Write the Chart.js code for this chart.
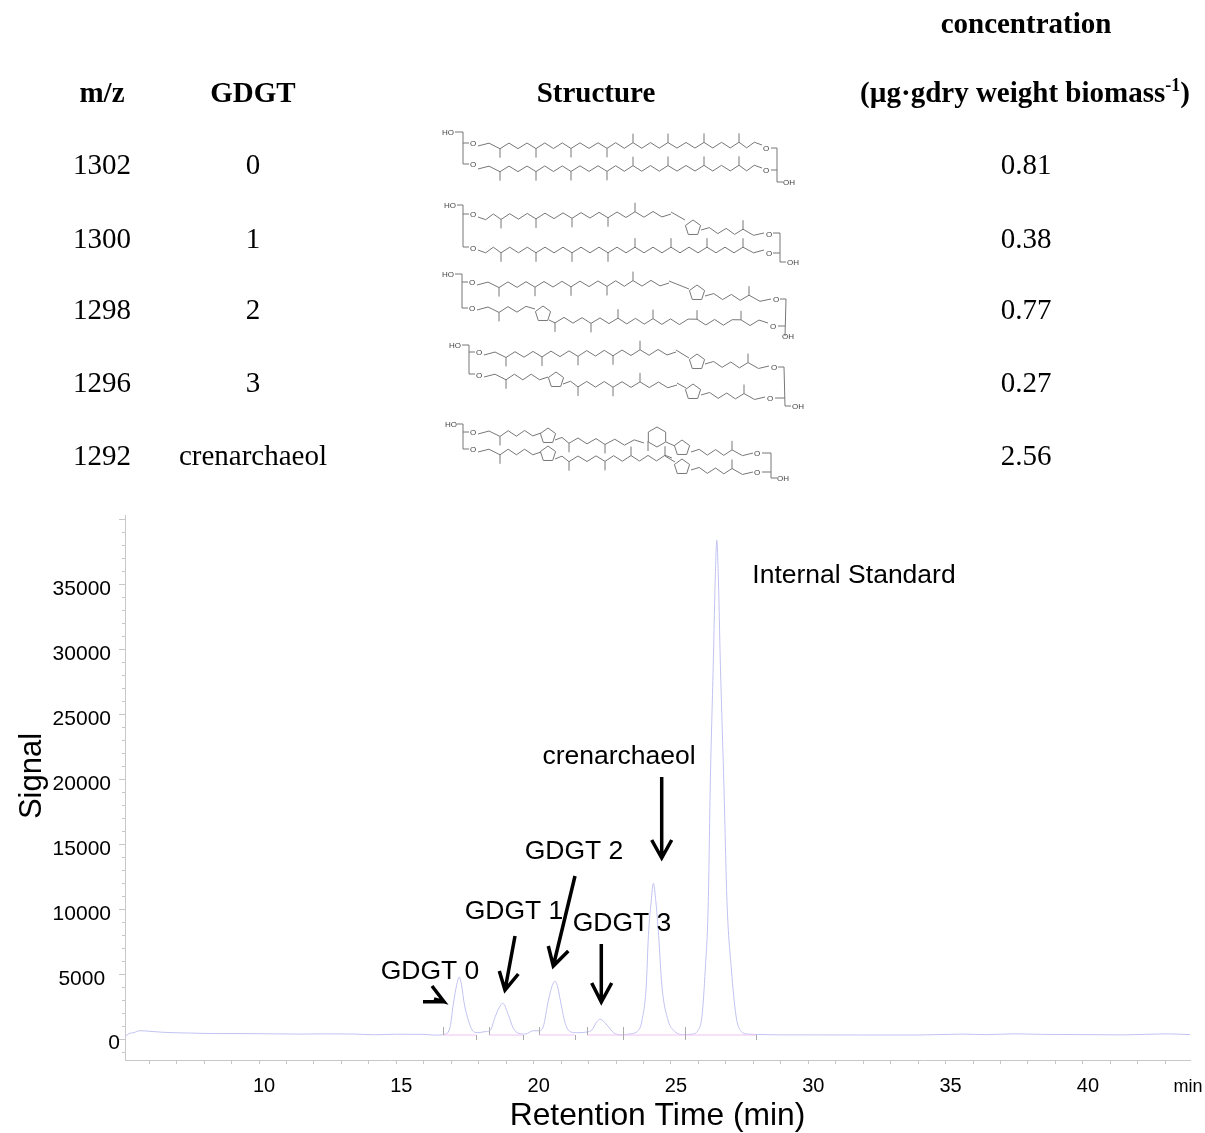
<!DOCTYPE html>
<html>
<head>
<meta charset="utf-8">
<title>GDGT chromatogram</title>
<script src="https://cdn.jsdelivr.net/npm/chart.js@4"></script>
<style>
  html, body { margin: 0; padding: 0; background: #fff; }
  #page { position: relative; width: 1205px; height: 1133px; overflow: hidden; }
  #chart { position: absolute; left: 0; top: 0; }
  #structures { position: absolute; left: 0; top: 0; }
  .cell { position: absolute; transform: translate(-50%, -50%); white-space: nowrap;
          font-family: "Liberation Serif", serif; font-size: 29px; color: #000; }
  .head { font-weight: bold; font-size: 29px; }
  .head sup { font-size: 18px; line-height: 0; }
</style>
</head>
<body>
<div id="page">
  <canvas id="chart" width="1205" height="1133"></canvas>
  <svg id="structures" width="1205" height="500" xmlns="http://www.w3.org/2000/svg"></svg>
</div>
<script>
// table
const mzValues = ['1302', '1300', '1298', '1296', '1292'];
const gdgtNames = ['0', '1', '2', '3', 'crenarchaeol'];
const concentrations = ['0.81', '0.38', '0.77', '0.27', '2.56'];

// chromatogram trace
const retentionTime = [5.12, 5.25, 5.45, 5.66, 6.0, 6.5, 7.5, 8.5, 9.5, 10.5, 11.5, 12.5, 13.5, 14.2, 15, 16, 16.4,
  16.78, 16.96, 17.08, 17.19, 17.29, 17.38, 17.47, 17.62, 17.81, 17.98, 18.23, 18.41,
  18.6, 18.75, 18.88, 19.08, 19.26, 19.45, 19.69, 19.99, 20.2,
  20.35, 20.54, 20.68, 20.77, 20.86, 20.97, 21.15, 21.33, 21.57, 21.94, 22.12,
  22.3, 22.42, 22.67, 22.91, 23.21, 23.46,
  23.82, 23.95, 24.1, 24.18, 24.28, 24.36, 24.45, 24.55, 24.67, 24.89, 25.09, 25.46,
  25.76, 25.99, 26.13, 26.25, 26.36, 26.43, 26.54, 26.62, 26.67, 26.72, 26.8, 26.93, 27.04, 27.2, 27.37, 27.52, 27.81,
  28.2, 29, 30, 32, 34, 35.6, 36.5, 37.5, 38.5, 40, 41.5, 43, 43.9];
const signal = [200, 420, 520, 660, 620, 540, 480, 440, 440, 420, 400, 420, 400, 350, 390, 380, 320,
  400, 970, 2790, 4100, 4790, 4100, 2790, 1480, 590, 510, 590, 660,
  1740, 2450, 2770, 1870, 850, 460, 400, 660, 660,
  970, 3020, 4150, 4460, 4150, 3020, 1230, 590, 510, 560, 715,
  1350, 1540, 1100, 510, 330, 400,
  700, 1500, 4100, 8000, 10600, 12000, 10600, 8000, 4100, 1500, 700, 360,
  400, 700, 1800, 5400, 10600, 19400, 28800, 36000, 38400, 36000, 28800, 19400, 10600, 5400, 1800, 700, 400,
  370, 340, 340, 330, 330, 400, 360, 420, 380, 360, 340, 420, 360];

// integration baselines under each peak
const baselineStart = [16.7, 18.38, 20.2, 21.95, 23.25, 25.5];
const baselineEnd = [17.9, 19.6, 21.5, 23.25, 25.5, 28.1];
const baselineSignal = 330;

// axes
const xTickValues = [6,7,8,9,10,11,12,13,14,15,16,17,18,19,20,21,22,23,24,25,26,27,28,29,30,31,32,33,34,35,36,37,38,39,40,41,42,43];
const xTickLabels = ['10', '15', '20', '25', '30', '35', '40'];
const yTickValues = [-1000,0,1000,2000,3000,4000,5000,6000,7000,8000,9000,10000,11000,12000,13000,14000,15000,16000,17000,18000,19000,20000,
  21000,22000,23000,24000,25000,26000,27000,28000,29000,30000,31000,32000,33000,34000,35000,36000,37000,38000,39000,40000];
const yTickLabels = ['5000', '10000', '15000', '20000', '25000', '30000', '35000'];

const sans = '"Liberation Sans", Arial, sans-serif';
const axisGrey = '#c8c8c8';

// table cells
const page = document.getElementById('page');
function cell(x, y, html, cls) {
    const d = document.createElement('div');
    d.className = 'cell ' + (cls || '');
    d.style.left = x + 'px';
    d.style.top = y + 'px';
    d.innerHTML = html;
    page.appendChild(d);
}
cell(1026, 23, 'concentration', 'head');
cell(102, 92, 'm/z', 'head');
cell(253, 92, 'GDGT', 'head');
cell(596, 92, 'Structure', 'head');
cell(1025, 92, '(\u00b5g\u00b7gdry weight biomass<sup>-1</sup>)', 'head');
const rowY = [164, 238, 309, 382, 455];
rowY.forEach((y, i) => {
    cell(102, y, mzValues[i]);
    cell(253, y, gdgtNames[i]);
    cell(1026, y, concentrations[i]);
});

// molecule sketches
const svg = document.getElementById('structures');
function line(pts) {
    const p = document.createElementNS('http://www.w3.org/2000/svg', 'polyline');
    p.setAttribute('points', pts.map(q => q.join(',')).join(' '));
    p.setAttribute('fill', 'none');
    p.setAttribute('stroke', '#777');
    p.setAttribute('stroke-width', '1');
    svg.appendChild(p);
}
function label(x, y, t) {
    const e = document.createElementNS('http://www.w3.org/2000/svg', 'text');
    e.setAttribute('x', x);
    e.setAttribute('y', y + 3);
    e.setAttribute('text-anchor', 'middle');
    e.setAttribute('font-family', 'Liberation Sans');
    e.setAttribute('font-size', '8');
    e.setAttribute('fill', '#444');
    e.textContent = t;
    svg.appendChild(e);
}
// zigzag chain, methyls are [x, 1 down / -1 up]
function chain(x0, y0, x1, y1, methyls) {
    const amp = 2.8;
    const yAt = x => y0 + (y1 - y0) * (x - x0) / (x1 - x0);
    const anchors = [[x0, 0]].concat(methyls, [[x1, 0]]);
    const pts = [[x0, y0]];
    for (let a = 0; a < anchors.length - 1; a++) {
        const [ax, ad] = anchors[a];
        const [bx, bd] = anchors[a + 1];
        const n = Math.max(1, Math.round((bx - ax) / 8.9));
        let side = ad !== 0 ? ad : -bd * (n % 2 === 0 ? -1 : 1);
        if (side === 0) side = 1;
        for (let k = 1; k <= n; k++) {
            const x = ax + (bx - ax) * k / n;
            side = -side;
            let off = side * amp;
            if (k === n) off = bd * amp;
            pts.push([x, yAt(x) + off]);
        }
        if (bd !== 0) line([[bx, yAt(bx) + bd * amp], [bx, yAt(bx) + bd * (amp + 9)]]);
    }
    line(pts);
}
function polygon(cx, cy, r, n, rot) {
    const pts = [];
    for (let i = 0; i <= n; i++) {
        const a = rot + i * 2 * Math.PI / n;
        pts.push([cx + r * Math.cos(a), cy + r * Math.sin(a)]);
    }
    line(pts);
}
const ring = (cx, cy) => polygon(cx, cy, 8, 5, -Math.PI / 2);
const D = x => [x, 1];
const U = x => [x, -1];

// 0
label(448, 132, 'HO'); line([[455,132],[463,132],[463,164],[469,164]]); line([[463,143],[469,143]]);
label(473, 143, 'O'); label(473, 164, 'O');
chain(478, 146, 762, 145, [D(500),D(536),D(571),D(607),U(633),U(668),U(704),U(739)]);
chain(478, 169, 762, 168, [D(500),D(536),D(571),D(607),U(633),U(668),U(704),U(739)]);
label(766, 148, 'O'); label(766, 170, 'O');
line([[771,148],[777,148],[777,182],[783,182]]); line([[771,170],[777,170]]); label(789, 182, 'OH');
// 1
label(450, 205, 'HO'); line([[457,205],[463,205],[463,247],[469,247]]); line([[463,214],[469,214]]);
label(473, 214, 'O'); label(473, 248, 'O');
chain(478, 217, 671, 214, [D(501),D(536),D(572),D(608),U(635)]);
line([[671,212],[685,220]]); ring(693, 228);
chain(701, 230, 764, 233, [U(743)]);
chain(478, 250, 764, 250, [D(501),D(536),D(572),D(608),U(635),U(671),U(707),U(743)]);
label(769, 234, 'O'); label(769, 253, 'O');
line([[773,233],[780,233],[780,262],[786,262]]); line([[773,253],[780,253]]); label(793, 262, 'OH');
// 2
label(448, 274, 'HO'); line([[455,274],[462,274],[462,308],[468,308]]); line([[462,282],[468,282]]);
label(472, 282, 'O'); label(472, 308, 'O');
chain(477, 285, 669, 283, [D(499),D(535),D(571),D(607),U(633)]);
line([[669,281],[689,289]]); ring(697, 293);
chain(705, 296, 771, 299, [U(749)]);
chain(477, 310, 535, 309, [D(499)]); ring(543, 314);
chain(549, 320, 768, 323, [D(555),D(591),U(618),U(653),U(697),U(741)]);
label(776, 299, 'O'); label(773, 326, 'O');
line([[780,299],[786,299],[785,336]]); line([[778,326],[785,326]]); label(788, 336, 'OH');
// 3
label(455, 345, 'HO'); line([[462,345],[469,345],[469,374],[475,374]]); line([[469,352],[475,352]]);
label(479, 352, 'O'); label(479, 375, 'O');
chain(484, 355, 676, 352, [D(506),D(542),D(578),D(613),U(640)]);
line([[676,350],[689,358]]); ring(697, 362);
chain(705, 364, 769, 366, [U(748)]);
chain(484, 377, 548, 377, [D(506)]); ring(556, 380);
chain(563, 384, 677, 385, [D(578),D(613),U(640)]);
line([[677,383],[686,388]]); ring(693, 392);
chain(701, 395, 765, 397, [U(744)]);
label(774, 367, 'O'); label(770, 398, 'O');
line([[778,367],[784,367],[785,406],[791,406]]); line([[775,398],[785,398]]); label(798, 406, 'OH');
// crenarchaeol
label(451, 424, 'HO'); line([[457,424],[463,424],[463,449],[469,449]]); line([[463,432],[469,432]]);
label(473, 432, 'O'); label(473, 449, 'O');
chain(478, 434, 541, 433, [D(500)]); ring(548, 436);
chain(555, 440, 644, 443, [D(569),D(605)]);
polygon(657, 437, 10, 6, -Math.PI / 2);
line([[648,441],[648,451]]); line([[666,442],[675,446]]); ring(682, 448);
chain(691, 452, 753, 453, [U(732)]);
chain(478, 452, 541, 452, [D(500)]); ring(548, 454);
chain(555, 459, 672, 458, [D(569),D(605),U(631),U(665)]);
line([[665,456],[675,462]]); ring(682, 467);
chain(691, 470, 753, 472, [U(732)]);
label(757, 453, 'O'); label(757, 472, 'O');
line([[762,453],[771,453],[771,478],[777,478]]); line([[762,472],[771,472]]); label(783, 478, 'OH');

// free text and arrows over the plot
const noteTexts = [
    ['GDGT 0', 430, 972, 26.5], ['GDGT 1', 514, 912, 26.5], ['GDGT 2', 574, 852, 26.5],
    ['GDGT 3', 622, 924, 26.5], ['crenarchaeol', 619, 757, 26.5], ['Internal Standard', 854, 576, 26.5]
];
const noteArrows = [
    [[661.7,777],[661.7,858],[651.7,840],[671.7,840]],
    [[575,876],[553.3,966],[548.3,946],[568.3,951]],
    [[515,936],[505,990],[499.3,971],[518.3,974]],
    [[601.3,944],[601.3,1002],[591.7,983],[611.7,983]],
    [[423,1001.7],[444,1001.7],[432,986],[434,999]]
];

const overlayPlugin = {
    id: 'overlay',
    afterDraw(chart) {
        const { ctx, scales: { x, y } } = chart;
        ctx.save();
        // longer marks on the major y ticks
        ctx.strokeStyle = axisGrey;
        ctx.lineWidth = 1;
        yTickValues.filter(v => v % 5000 === 0).forEach(v => {
            const py = Math.round(y.getPixelForValue(v)) + 0.5;
            ctx.beginPath();
            ctx.moveTo(x.left - 3, py);
            ctx.lineTo(x.left - 6, py);
            ctx.stroke();
        });
        // integration marks
        ctx.strokeStyle = '#aaa';
        baselineStart.forEach(t => {
            const px = Math.round(x.getPixelForValue(t)) + 0.5;
            const py = y.getPixelForValue(baselineSignal);
            ctx.beginPath();
            ctx.moveTo(px, py - 8);
            ctx.lineTo(px, py);
            ctx.stroke();
        });
        baselineEnd.forEach(t => {
            const px = Math.round(x.getPixelForValue(t)) + 0.5;
            const py = y.getPixelForValue(baselineSignal);
            ctx.beginPath();
            ctx.moveTo(px, py);
            ctx.lineTo(px, py + 5);
            ctx.stroke();
        });
        // arrows
        ctx.strokeStyle = '#000';
        ctx.lineWidth = 3.5;
        noteArrows.forEach(([a, b, h1, h2]) => {
            ctx.beginPath();
            ctx.moveTo(a[0], a[1]);
            ctx.lineTo(b[0], b[1]);
            ctx.moveTo(h1[0], h1[1]);
            ctx.lineTo(b[0], b[1]);
            ctx.lineTo(h2[0], h2[1]);
            ctx.stroke();
        });
        // labels
        ctx.fillStyle = '#000';
        ctx.textAlign = 'center';
        ctx.textBaseline = 'middle';
        noteTexts.forEach(([t, px, py, size]) => {
            ctx.font = size + 'px ' + sans;
            ctx.fillText(t, px, py);
        });
        ctx.font = '18px ' + sans;
        ctx.fillText('min', 1188, 1087);
        ctx.font = '21px ' + sans;
        ctx.fillText('0', 114, y.getPixelForValue(0) + 4);
        ctx.font = '31px ' + sans;
        ctx.translate(32, 776);
        ctx.rotate(-Math.PI / 2);
        ctx.fillText('Signal', 0, 0);
        ctx.restore();
    }
};

const traceData = retentionTime.map((t, i) => ({ x: t, y: signal[i] }));
const baselineData = [];
baselineStart.forEach((t, i) => {
    baselineData.push({ x: t, y: baselineSignal }, { x: baselineEnd[i], y: baselineSignal }, { x: baselineEnd[i], y: null });
});

new Chart(document.getElementById('chart'), {
    type: 'line',
    data: {
        datasets: [
            { label: 'Baseline', data: baselineData, borderColor: '#f2c4f2', borderWidth: 1, pointRadius: 0, spanGaps: false },
            { label: 'Signal', data: traceData, borderColor: '#c2c2f2', borderWidth: 1, pointRadius: 0, cubicInterpolationMode: 'monotone' }
        ]
    },
    options: {
        responsive: false,
        animation: false,
        events: [],
        layout: { padding: { left: 0, top: 515, right: 15, bottom: 0 } },
        plugins: { legend: { display: false }, tooltip: { enabled: false } },
        scales: {
            x: {
                type: 'linear',
                min: 5.12,
                max: 43.9,
                afterFit: s => { s.height = 73; },
                afterBuildTicks: s => { s.ticks = xTickValues.map(v => ({ value: v })); },
                grid: { drawOnChartArea: false, tickLength: 4, tickColor: axisGrey },
                border: { color: axisGrey, width: 1 },
                ticks: {
                    autoSkip: false,
                    maxRotation: 0,
                    labelOffset: 5,
                    padding: 10,
                    color: '#000',
                    font: { family: sans, size: 20 },
                    callback: v => (xTickLabels.includes(String(v)) ? String(v) : '')
                },
                title: { display: true, text: 'Retention Time (min)', color: '#000', font: { family: sans, size: 31.8 }, padding: { top: 0, bottom: -2 } }
            },
            y: {
                type: 'linear',
                min: -1592,
                max: 40330,
                afterFit: s => { s.width = 125; },
                afterBuildTicks: s => { s.ticks = yTickValues.map(v => ({ value: v })); },
                grid: { drawOnChartArea: false, tickLength: 3, tickColor: axisGrey },
                border: { color: axisGrey, width: 1 },
                ticks: {
                    autoSkip: false,
                    crossAlign: 'center',
                    labelOffset: 5,
                    padding: 11,
                    color: '#000',
                    font: { family: sans, size: 21 },
                    callback: v => (yTickLabels.includes(String(v)) ? String(v) : '')
                }
            }
        }
    },
    plugins: [overlayPlugin]
});
</script>
</body>
</html>
